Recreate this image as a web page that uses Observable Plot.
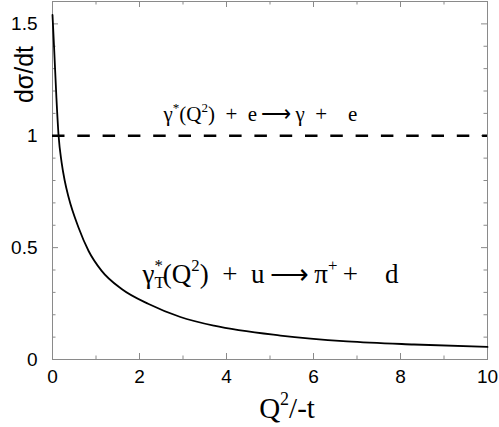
<!DOCTYPE html>
<html><head><meta charset="utf-8">
<script src="https://cdn.jsdelivr.net/npm/d3@7"></script>
<script src="https://cdn.jsdelivr.net/npm/@observablehq/plot@0.6"></script>
<style>body{margin:0;background:#fff} svg{display:block} svg text{white-space:pre}</style>
</head><body><div id="chart"></div>
<script>
// Curve: dσ/dt versus Q²/-t
const q2t  = [0, 0.04, 0.09, 0.14, 0.21, 0.28, 0.37, 0.6, 0.83, 1.13, 1.59, 2.21, 2.94, 3.71, 5.24, 6.77, 8.31, 10];
const dsdt = [1.54, 1.38, 1.17, 1.00, 0.88, 0.80, 0.725, 0.589, 0.485, 0.396, 0.315, 0.248, 0.19, 0.151, 0.107, 0.081, 0.067, 0.056];
// Dashed reference level
const photonLevel = [1];
// Ticks
const xMajor = [0, 2, 4, 6, 8, 10];
const xMinor = [1, 3, 5, 7, 9];
const yMajor = [0, 0.5, 1, 1.5];
const yMinor = [0.1, 0.2, 0.3, 0.4, 0.6, 0.7, 0.8, 0.9, 1.1, 1.2, 1.3, 1.4];
const yTickLabels = ["0", "0.5", "1", "1.5"];
// Annotations (markup: ^{..} superscript, _{..} subscript)
const annoText = [
  "γ^{*}(Q^{2})\u2002+\u2002e\u2009⟶\u2009γ\u2002+\u2003e",
  "γ_{T}^{*}(Q^{2})\u2002+\u2002u\u2009⟶\u2009π^{+}\u2009+\u2003d"
];
const annoX = [2.55, 2.07];
const annoY = [1.068, 0.344];
const xTitle = "Q^{2}/-t";
const yTitle = "dσ/dt";

const W = 499, H = 427, mL = 52, mR = 12, mT = 1, mB = 68;
const iw = W - mL - mR, ih = H - mT - mB;
const curve = q2t.map((x, i) => ({x, y: dsdt[i]}));
const grey = "#8a8a8a";
const serif = "Liberation Serif, Times New Roman, serif";

const plot = Plot.plot({
  width: W, height: H, marginLeft: mL, marginRight: mR, marginTop: mT, marginBottom: mB,
  style: {fontFamily: "Liberation Sans, Arial, sans-serif", color: "#000", background: "#fff"},
  x: {domain: [0, 10]},
  y: {domain: [0, 1.6]},
  marks: [
    Plot.frame({stroke: grey}),
    Plot.tickX(xMajor, {x: d => d, stroke: grey, insetTop: ih - 6}),
    Plot.tickX(xMajor, {x: d => d, stroke: grey, insetBottom: ih - 6}),
    Plot.tickX(xMinor, {x: d => d, stroke: grey, insetTop: ih - 3.5}),
    Plot.tickX(xMinor, {x: d => d, stroke: grey, insetBottom: ih - 3.5}),
    Plot.tickY(yMajor, {y: d => d, stroke: grey, insetRight: iw - 6}),
    Plot.tickY(yMajor, {y: d => d, stroke: grey, insetLeft: iw - 6}),
    Plot.tickY(yMinor, {y: d => d, stroke: grey, insetRight: iw - 3.5}),
    Plot.tickY(yMinor, {y: d => d, stroke: grey, insetLeft: iw - 3.5}),
    Plot.axisX({ticks: xMajor, tickSize: 0, tickPadding: 10, fontSize: 19, label: null, tickFormat: d => String(d)}),
    Plot.axisY({ticks: yMajor, tickSize: 0, tickPadding: 15, fontSize: 19, label: null, tickFormat: d => yTickLabels[yMajor.indexOf(d)]}),
    Plot.ruleY(photonLevel, {stroke: "#000", strokeWidth: 2.6, strokeDasharray: "12.5,12.8"}),
    Plot.line(curve, {x: "x", y: "y", curve: "monotone-x", stroke: "#000", strokeWidth: 1.8}),
    Plot.text([annoText[0]], {x: annoX[0], y: annoY[0], text: d => d, textAnchor: "start", lineAnchor: "bottom", fontSize: 21, fontFamily: serif, fill: "#000"}),
    Plot.text([annoText[1]], {x: annoX[1], y: annoY[1], text: d => d, textAnchor: "start", lineAnchor: "bottom", fontSize: 27, fontFamily: serif, fill: "#000"}),
    Plot.text([xTitle], {frameAnchor: "bottom", text: d => d, dx: 17, dy: 58, lineAnchor: "bottom", fontSize: 29, fontFamily: serif, fill: "#000"}),
    Plot.text([yTitle], {frameAnchor: "top-left", text: d => d, dx: -28, dy: 73, rotate: -90, textAnchor: "middle", lineAnchor: "middle", fontSize: 25, fill: "#000"})
  ]
});
document.getElementById("chart").appendChild(plot);

// Rich text: turn ^{..} and _{..} markup into raised / lowered tspans
function rich(el) {
  const markup = el.textContent;
  if (!/[\^_]\{/.test(markup)) return;
  const fs = parseFloat(getComputedStyle(el).fontSize);
  const parts = markup.split(/(\^\{[^}]*\}|_\{[^}]*\})/).filter(s => s !== "");
  el.textContent = "";
  const ns = "http://www.w3.org/2000/svg";
  let shift = 0, prev = null, prevKind = null;
  for (const part of parts) {
    const kind = part.startsWith("^{") ? "sup" : part.startsWith("_{") ? "sub" : "normal";
    const content = kind === "normal" ? part : part.slice(2, -1);
    const target = kind === "sup" ? -0.42 * fs : kind === "sub" ? 0.22 * fs : 0;
    const t = document.createElementNS(ns, "tspan");
    t.setAttribute("dy", String(target - shift));
    shift = target;
    t.setAttribute("font-size", kind === "normal" ? fs : fs * 0.62);
    if (kind === "sup" && prevKind === "sub" && prev) {
      t.setAttribute("dx", String(-prev.getComputedTextLength()));
    }
    t.textContent = content;
    el.appendChild(t);
    prev = t; prevKind = kind;
  }
}
plot.querySelectorAll("text").forEach(rich);
</script>
</body></html>
